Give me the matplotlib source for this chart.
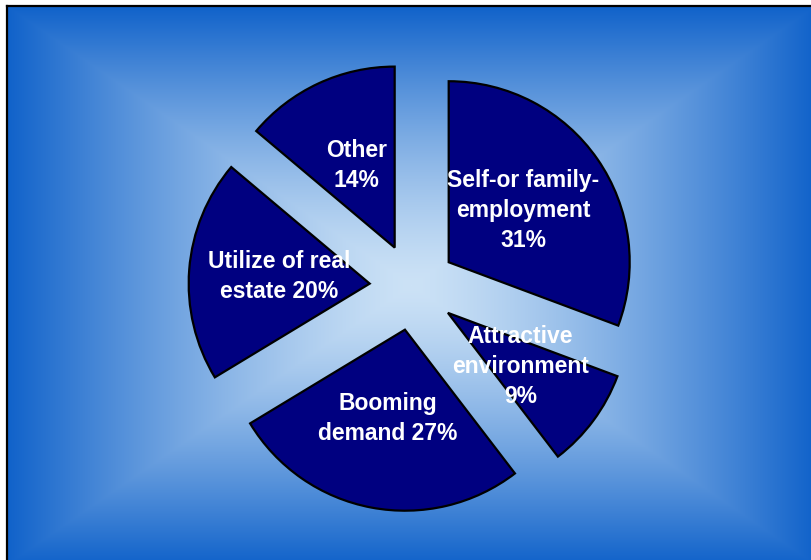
import numpy as np
import matplotlib
matplotlib.use("Agg")
import matplotlib.pyplot as plt

# reasons for starting a business, clockwise from 12 o'clock
label_fmt = [
    "Self-or family-\nemployment\n{}%",
    "Attractive\nenvironment\n{}%",
    "Booming\ndemand {}%",
    "Utilize of real\nestate {}%",
    "Other\n{}%",
]
shares = [31, 9, 27, 20, 14]
labels = [fmt.format(v) for fmt, v in zip(label_fmt, shares)]

W, H = 811, 560
fig = plt.figure(figsize=(W / 100, H / 100), dpi=100)
fig.patch.set_facecolor("white")

# background panel with a rectangular "from centre" gradient
bg = fig.add_axes([7 / W, -4 / H, 808 / W, 558 / H])
ny, nx = 558, 808
yy, xx = np.mgrid[0:ny, 0:nx]
t = np.maximum(np.abs(xx - nx / 2) / (nx / 2), np.abs(yy - ny / 2) / (ny / 2))
t = np.clip(t, 0, 1)[..., None] ** 1.35
inner = np.array([204, 226, 246]) / 255
outer = np.array([16, 98, 202]) / 255
grad = inner * (1 - t) + outer * t
bg.imshow(grad, aspect="auto", extent=(0, 1, 0, 1), interpolation="bilinear")
bg.set_xticks([])
bg.set_yticks([])
for s in bg.spines.values():
    s.set_color("black")
    s.set_linewidth(1.6)

# pie axes: square box so the pie radius is 181 px
R = 181
cx, cy = 413, H - 287
half = 250
ax = fig.add_axes([(cx - half) / W, (cy - half) / H, 2 * half / W, 2 * half / H])
ax.patch.set_visible(False)

wedges, texts = ax.pie(
    shares,
    labels=labels,
    startangle=90,
    counterclock=False,
    explode=[0.24] * len(shares),
    labeldistance=0.5,
    colors=["#000080"] * len(shares),
    wedgeprops=dict(edgecolor="black", linewidth=1.6),
    textprops=dict(color="white", fontsize=16.5, fontweight="bold",
                   family=["Liberation Sans", "DejaVu Sans"]),
    frame=False,
)
for tx in texts:
    tx.set_ha("center")
    tx.set_va("center")
    tx.set_multialignment("center")
    tx.set_linespacing(1.4)

lim = half / R
ax.set_xlim(-lim, lim)
ax.set_ylim(-lim, lim)

fig.savefig("out.png", dpi=100, facecolor=fig.get_facecolor())
